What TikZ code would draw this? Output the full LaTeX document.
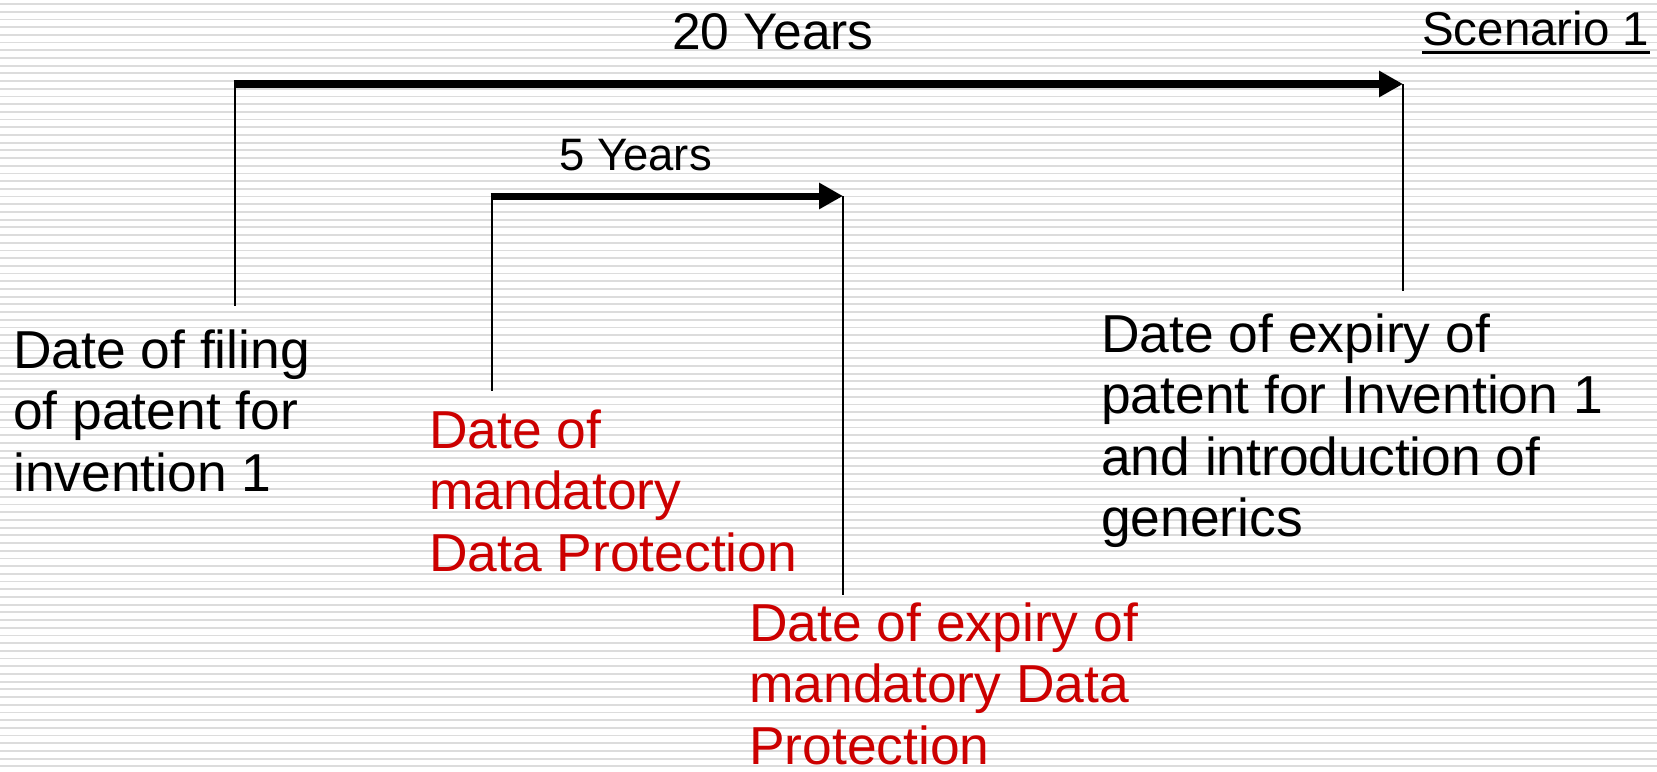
\documentclass[tikz,border=0pt]{standalone}
\usepackage{fontspec}
\setmainfont{Liberation Sans}
\usetikzlibrary{arrows.meta}
\definecolor{dpred}{RGB}{204,0,0}
\definecolor{stripegray}{RGB}{220,220,220}
\tikzset{
  label/.style={inner sep=0pt, anchor=base west, align=left,
    font=\fontsize{53.4}{61.5}\selectfont},
  redlabel/.style={label, text=dpred},
  span/.style={line width=7.5pt, -{Triangle[length=24pt,width=25pt]}},
  span5/.style={line width=7pt, -{Triangle[length=24pt,width=25pt]}},
  tick/.style={line width=2.8pt},
  stripe/.style={stripegray, line width=1.8pt}
}
\begin{document}
\begin{tikzpicture}[x=1pt, y=-1pt]
  \useasboundingbox (0,0) rectangle (1657,771);
  % ruled background
  \fill[white] (0,0) rectangle (1657,771);
  \foreach \i in {0,...,99} {
    \draw[stripe] (0,4+7.7*\i) -- (1657,4+7.7*\i);
  }

  % time points
  \coordinate (fileTop) at (235,84);
  \coordinate (fileBot) at (235,306);
  \coordinate (patTop) at (1403,84);
  \coordinate (patBot) at (1403,291);
  \coordinate (dpTop) at (492,196);
  \coordinate (dpBot) at (492,391);
  \coordinate (dpeTop) at (843,196);
  \coordinate (dpeBot) at (843,595);

  % vertical markers
  \draw[tick] ([yshift=-1pt]fileTop) -- (fileBot);
  \draw[tick] (patTop) -- (patBot);
  \draw[tick] ([yshift=-1pt]dpTop) -- (dpBot);
  \draw[tick] (dpeTop) -- (dpeBot);

  % spans
  \draw[span] ([xshift=-1.4pt]fileTop) -- (patTop);
  \draw[span5] ([xshift=-1.4pt]dpTop) -- (dpeTop);

  % span labels
  \node[inner sep=0pt, anchor=base west, font=\fontsize{51.5}{60}\selectfont]
    (twenty) at (672,49) {20 Years};
  \node[inner sep=0pt, anchor=base west, font=\fontsize{45.5}{52}\selectfont]
    (five) at (559,170) {5 Years};

  % scenario heading
  \node[inner sep=0pt, anchor=base west, font=\fontsize{47.5}{54}\selectfont]
    (scen) at (1422,45) {Scenario 1};
  \draw[line width=3pt] ([yshift=-7pt]scen.base west) -- ([yshift=-7pt]scen.base east);

  % event labels (anchored at the baseline of their last line)
  \node[label] (filing) at (13,491) {Date of filing\\of patent for\\invention 1};
  \node[redlabel] (dpstart) at (429,571) {Date of\\mandatory\\Data Protection};
  \node[redlabel, text depth=0pt] (dpend) at (749,764) {Date of expiry of\\mandatory Data\\Protection};
  \node[label] (patexp) at (1101,536.5) {Date of expiry of\\patent for Invention 1\\and introduction of\\generics};
\end{tikzpicture}
\end{document}
